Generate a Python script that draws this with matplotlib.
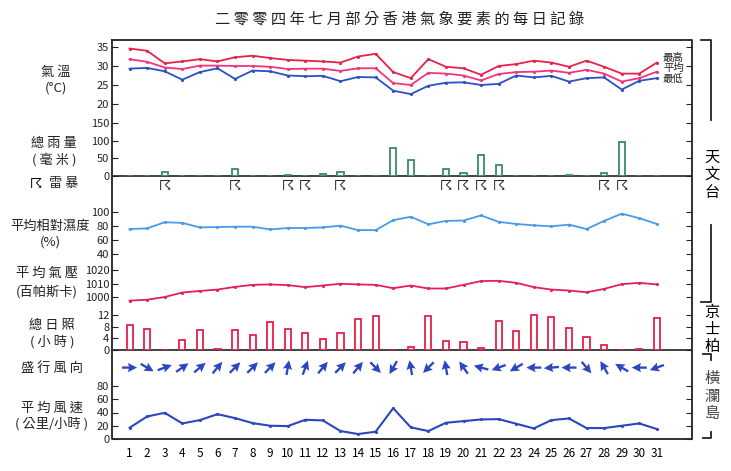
import matplotlib
matplotlib.use("Agg")
import matplotlib.pyplot as plt
import numpy as np

plt.rcParams['font.family'] = ['Noto Sans CJK TC', 'DejaVu Sans']

days = list(range(1, 32))
t_max = [34.6,34.0,30.7,31.2,31.8,31.2,32.3,32.7,32.1,31.6,31.4,31.2,30.9,32.5,33.2,28.4,26.8,31.8,29.8,29.4,27.7,30.0,30.5,31.4,30.9,29.8,31.4,29.8,28.0,28.0,30.9]
t_mean = [31.8,31.1,29.6,29.2,30.1,30.1,30.0,30.0,29.8,29.2,29.3,29.3,28.7,29.4,29.4,25.5,25.0,28.2,28.0,27.5,26.2,27.9,28.4,28.5,28.8,28.2,29.0,28.0,25.9,26.8,28.5]
t_min = [29.3,29.5,28.6,26.4,28.4,29.4,26.6,28.8,28.6,27.5,27.3,27.4,26.0,27.1,27.0,23.5,22.6,24.8,25.6,25.7,25.0,25.3,27.5,27.0,27.4,25.9,26.8,27.0,23.8,26.1,26.8]
rain = [0,0.3,10,0.3,0.3,0.3,20,0,0,3,1,6,10,0,0,80,45,0,20,8,60,30,0,0,0,3,0,8,97,1,0]
thunder_days = [3,7,10,11,13,19,20,21,22,28,29]
humidity = [75.6,76.6,85.4,84.4,78.0,78.5,79.0,79.0,75.1,77.1,77.1,78.0,80.5,74.1,74.1,88.3,93.2,82.4,87.3,87.8,95.1,85.9,82.9,81.0,79.5,82.0,75.6,87.3,97.6,91.2,82.9]
pressure = [997.3,998.0,1000.0,1003.3,1004.5,1005.5,1007.5,1009.0,1009.3,1008.8,1007.3,1008.5,1009.8,1009.3,1009.0,1006.5,1008.5,1006.3,1006.3,1009.0,1011.8,1012.0,1010.5,1007.3,1005.5,1004.8,1003.5,1006.0,1009.5,1010.5,1009.3]
sunshine = [8.6,7.2,0,3.4,6.7,0.3,6.9,5.1,9.7,7.2,5.7,3.8,5.7,10.8,11.5,0,1.2,11.7,3.1,2.8,0.6,10.0,6.5,12.0,11.3,7.4,4.5,1.6,0,0.5,11.0]
wind_dir = [0,-30,20,35,40,50,45,45,45,80,70,50,45,50,-45,240,100,225,100,125,165,200,210,180,185,180,-50,120,150,180,200]
wind_speed = [17,34,39.5,23.5,28.5,37.5,31.5,24,20,19.5,29,28,12,7.5,11,46.5,17.5,12,24.5,27,29.5,30,23,16,28.5,31,16.5,16.5,20,23.5,15]

W, H = 731, 471
fig = plt.figure(figsize=(W/100, H/100), dpi=100)
XL, XR, YT, YB = 112, 692, 40, 439
XLIM = (0, 33)

def fx(px): return px / W
def fy(px): return 1 - px / H

def sub(top, bot, va=None, pa=None, vb=None, pb=None):
    ax = fig.add_axes([fx(XL), fy(bot), fx(XR - XL), (bot - top) / H])
    ax.set_xlim(*XLIM)
    ax.patch.set_alpha(0)
    for s in ax.spines.values():
        s.set_visible(False)
    ax.set_xticks([])
    if va is not None:
        sc = (pb - pa) / (va - vb)
        ax.set_ylim(va - (bot - pa) / sc, va + (pa - top) / sc)
        ax.tick_params(axis='y', direction='in', length=4, labelsize=8, pad=2,
                       right=True, left=True, colors='#222')
    else:
        ax.set_yticks([])
    return ax

ov = fig.add_axes([0, 0, 1, 1])
ov.set_xlim(0, W); ov.set_ylim(H, 0); ov.axis('off')
ov.plot([XL, XL, XR, XR, XL], [YT, YB, YB, YT, YT], color='#222', lw=1.3)
ov.plot([XL, XR], [176, 176], color='#333', lw=1.3)
ov.plot([XL, XR], [350, 350], color='#333', lw=1.3)

# temperature
ax = sub(40, 110, 35, 47, 20, 104)
ax.set_yticks([20, 25, 30, 35])
ax.plot(days, t_max, color='#e8204a', lw=1.3, marker='.', ms=2.5)
ax.plot(days, t_mean, color='#f2347c', lw=1.3, marker='.', ms=2.5)
ax.plot(days, t_min, color='#2c4fc4', lw=1.3, marker='.', ms=2.5)
for y, t in [(58, '最高'), (68, '平均'), (79, '最低')]:
    ov.text(663, y, t, fontsize=7.5, va='center', ha='left', color='#222')

# rain
ax = sub(115, 176, 150, 123, 0, 176)
ax.set_yticks([0, 50, 100, 150])
ax.bar(days, rain, width=0.35, facecolor='white', edgecolor='#3a8a6a', lw=1.3)

# thunder
ax = sub(176, 195)
ax.set_ylim(0, 1)
for d in thunder_days:
    ax.text(d, 0.5, '☈', family=['DejaVu Sans'], fontsize=10, fontweight='bold',
            ha='center', va='center', color='#222')

# humidity
ax = sub(198, 258, 100, 212, 40, 254)
ax.set_yticks([40, 60, 80, 100])
ax.plot(days, humidity, color='#4a9ae8', lw=1.3, marker='.', ms=2.5)

# pressure
ax = sub(262, 305, 1020, 270, 1000, 297)
ax.set_yticks([1000, 1010, 1020])
ax.plot(days, pressure, color='#e81e5a', lw=1.3, marker='.', ms=2.5)

# sunshine
ax = sub(308, 350, 12, 315, 0, 350)
ax.set_yticks([0, 4, 8, 12])
ax.bar(days, sunshine, width=0.35, facecolor='white', edgecolor='#e8204a', lw=1.3)

# wind direction
ax = sub(350, 382)
ax.set_ylim(0, 1)
ang = np.deg2rad(wind_dir)
ax.quiver(days, [0.45] * 31, np.cos(ang), np.sin(ang), angles='uv', pivot='middle',
          scale=1 / 0.15, scale_units='inches', width=0.004, headwidth=4, headlength=4,
          headaxislength=3.5, color='#2c45c0')

# wind speed
ax = sub(382, 439, 80, 386, 0, 439)
ax.set_yticks([0, 20, 40, 60, 80])
ax.plot(days, wind_speed, color='#2c45c0', lw=1.5, marker='.', ms=2.5)
ax.set_xticks(days)
ax.set_xticklabels([str(d) for d in days], fontsize=8.5)
ax.tick_params(axis='x', length=0, pad=6)

# left labels
lbl = dict(ha='center', va='center', fontsize=9.5, color='#222')
ov.text(56, 72, '氣 溫', **lbl); ov.text(56, 88, '(°C)', **lbl)
ov.text(54, 144, '總 雨 量', **lbl); ov.text(54, 160, '( 毫 米 )', **lbl)
ov.text(36, 184, '☈', family=['DejaVu Sans'], fontsize=10, fontweight='bold', ha='center', va='center')
ov.text(64, 184, '雷 暴', **lbl)
ov.text(50, 226, '平均相對濕度', **lbl); ov.text(50, 242, '(%)', **lbl)
ov.text(47, 273, '平 均 氣 壓', **lbl); ov.text(47, 292, '(百帕斯卡)', **lbl)
ov.text(52, 326, '總 日 照', **lbl); ov.text(52, 342, '( 小 時 )', **lbl)
ov.text(52, 368, '盛 行 風 向', **lbl)
ov.text(52, 408, '平 均 風 速', **lbl); ov.text(52, 424, '( 公里/小時 )', **lbl)

# title
ov.text(400, 19, '二 零 零 四 年 七 月 部 分 香 港 氣 象 要 素 的 每 日 記 錄',
        ha='center', va='center', fontsize=11, color='#222')

# right brackets
k = dict(color='#222', lw=1.3)
ov.plot([701, 711, 711], [40, 40, 120], **k)
ov.text(712, 175, '天\n文\n台', ha='center', va='center', fontsize=11, linespacing=1.05)
ov.plot([711, 711, 701], [225, 302, 302], **k)
ov.text(712, 329, '京\n士\n柏', ha='center', va='center', fontsize=11, linespacing=1.0)
ov.plot([703, 711, 711], [354, 354, 360], **k)
ov.text(712, 396, '橫\n瀾\n島', ha='center', va='center', fontsize=11, linespacing=1.05, color='#444')
ov.plot([711, 711, 703], [432, 438, 438], **k)

fig.savefig('out.png', dpi=100)
